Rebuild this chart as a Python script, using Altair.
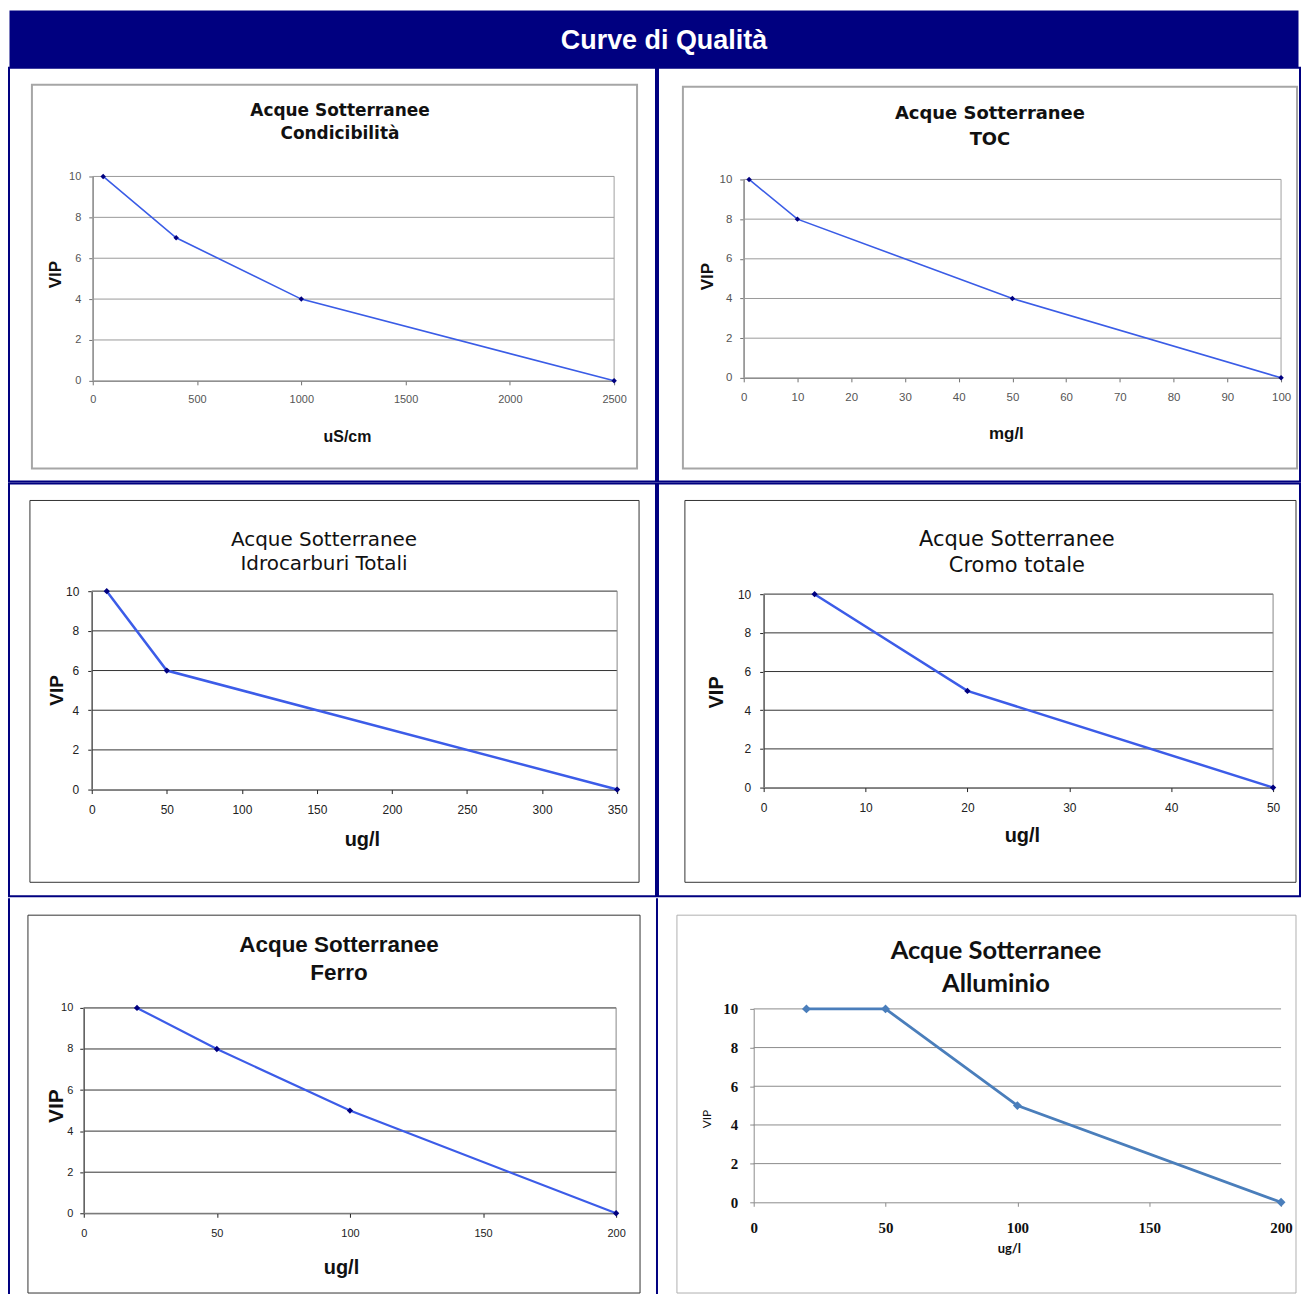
import altair as alt
import pandas as pd

# ---------------- data ----------------
header_text = "Curve di Qualità"

# 1 Condicibilità
cond_x = [50, 400, 1000, 2500]
cond_y = [10, 7, 4, 0]
cond_ticks = [0, 500, 1000, 1500, 2000, 2500]

# 2 TOC
toc_x = [1, 10, 50, 100]
toc_y = [10, 8, 4, 0]
toc_ticks = [0, 10, 20, 30, 40, 50, 60, 70, 80, 90, 100]

# 3 Idrocarburi Totali
idro_x = [10, 50, 350]
idro_y = [10, 6, 0]
idro_ticks = [0, 50, 100, 150, 200, 250, 300, 350]

# 4 Cromo totale
cromo_x = [5, 20, 50]
cromo_y = [10, 5, 0]
cromo_ticks = [0, 10, 20, 30, 40, 50]

# 5 Ferro
ferro_x = [20, 50, 100, 200]
ferro_y = [10, 8, 5, 0]
ferro_ticks = [0, 50, 100, 150, 200]

# 6 Alluminio
allu_x = [20, 50, 100, 200]
allu_y = [10, 10, 5, 0]
allu_ticks = [0, 50, 100, 150, 200]

vip_ticks = [0, 2, 4, 6, 8, 10]
grid_vals = [2, 4, 6, 8, 10]

NAVY = "#000080"
SANS = "Liberation Sans"


def cell(xs, ys, xticks, xmax, title, xtitle, w, h, box, px, py, st):
    one = pd.DataFrame({"k": [0]})
    df = pd.DataFrame({"x": xs, "y": ys})
    xscale = alt.Scale(domain=[0, xmax], range=list(px), nice=False, zero=False)
    yscale = alt.Scale(domain=[0, 10], range=[py[1], py[0]], nice=False, zero=False)
    xaxis = alt.Axis(
        values=xticks, format="d", title=xtitle, offset=py[1] - h, grid=False,
        domainColor=st["axis"], tickColor=st["axis"], tickSize=st["tick"],
        labelFont=st["lfont"], labelFontSize=st["lsize"], labelColor=st["lcolor"],
        labelFontWeight=st.get("lweight", "normal"),
        labelFlush=False, labelOverlap=False, labelPadding=st["xlp"],
        titleFont=st["xtfont"], titleFontSize=st["xtsize"], titleFontWeight="bold",
        titleColor="#111", titleX=st["xt"][0], titleY=st["xt"][1] - py[1],
        titleAnchor="middle", titleAlign="center", titleBaseline="middle",
    )
    yaxis = alt.Axis(
        values=vip_ticks, format="d", title="VIP", offset=-px[0], grid=False,
        domainColor=st["axis"], tickColor=st["axis"], tickSize=st["tick"],
        labelFont=st["lfont"], labelFontSize=st["lsize"], labelColor=st["lcolor"],
        labelFontWeight=st.get("lweight", "normal"),
        labelFlush=False, labelOverlap=False, labelPadding=st["ylp"],
        titleFont=st["ytfont"], titleFontSize=st["ytsize"], titleFontWeight=st["ytweight"],
        titleColor="#111", titleX=st["yt"][0] - px[0], titleY=st["yt"][1],
        titleAngle=270, titleAlign="center", titleBaseline="middle",
    )
    X = lambda **kw: alt.X(scale=xscale, axis=xaxis, **kw)
    Y = lambda **kw: alt.Y(scale=yscale, axis=yaxis, **kw)

    layers = []
    # outer chart box
    layers.append(
        alt.Chart(one).mark_rect(fillOpacity=0, stroke=st["box"], strokeWidth=st["boxw"]).encode(
            x=alt.value(box[0]), x2=alt.value(box[2]), y=alt.value(box[1]), y2=alt.value(box[3])
        )
    )
    # grid lines
    layers.append(
        alt.Chart(pd.DataFrame({"g": grid_vals})).mark_rule(color=st["grid"], strokeWidth=1).encode(
            y=Y(field="g", type="quantitative"),
            x=X(datum=0),
            x2=alt.datum(xmax),
        )
    )
    if st["frame"]:
        layers.append(
            alt.Chart(one).mark_rect(fillOpacity=0, stroke=st["framec"], strokeWidth=1).encode(
                x=X(datum=0), x2=alt.datum(xmax), y=Y(datum=0), y2=alt.datum(10),
            )
        )
    layers.append(
        alt.Chart(df).mark_line(color=st["line"], strokeWidth=st["lw"]).encode(
            x=X(field="x", type="quantitative"), y=Y(field="y", type="quantitative"),
        )
    )
    layers.append(
        alt.Chart(df).mark_point(shape="diamond", filled=True, opacity=1, size=st["ms"], color=st["mc"]).encode(
            x=X(field="x", type="quantitative"), y=Y(field="y", type="quantitative"),
        )
    )
    layers.append(
        alt.Chart(pd.DataFrame({"t": [title]})).mark_text(
            font=st["tfont"], fontSize=st["tsize"], fontWeight=st["tweight"], color="#111",
            lineBreak="\n", lineHeight=st["tlh"], align="center", baseline="middle",
        ).encode(text="t:N", x=alt.value(st["tpos"][0]), y=alt.value(st["tpos"][1]))
    )
    if st.get("noborder"):
        layers.append(
            alt.Chart(one).mark_rule(color=NAVY, strokeWidth=2).encode(
                x=alt.value(0), y=alt.value(0), y2=alt.value(h)
            )
        )
        view = alt.ViewBackground(fill="white", strokeOpacity=0)
    else:
        view = alt.ViewBackground(fill="white", stroke=NAVY, strokeWidth=2)
    return alt.layer(*layers).properties(width=w, height=h, view=view)


old_style = dict(
    box="#a6a6a6", boxw=2, grid="#9a9a9a", frame=True, framec="#a0a0a0", axis="#707070", tick=4,
    lfont=SANS, lsize=11, lcolor="#555", xlp=9, ylp=8,
    xtfont=SANS, xtsize=16, ytfont=SANS, ytsize=17, ytweight="bold",
    line="#3a5ce6", lw=1.6, ms=30, mc=NAVY,
    tfont="DejaVu Sans", tsize=17, tweight="bold", tlh=23,
)
mid_style = dict(
    box="#333333", boxw=1, grid="#333333", frame=True, framec="#888888", axis="#222", tick=4,
    lfont=SANS, lsize=12, lcolor="#222", xlp=11, ylp=9,
    xtfont=SANS, xtsize=20, ytfont=SANS, ytsize=20, ytweight="bold",
    line="#3c5ce8", lw=2.5, ms=40, mc=NAVY,
    tfont="DejaVu Sans", tsize=20, tweight="normal", tlh=25,
)

s1 = dict(old_style, tpos=(332, 43), xt=(339, 370), yt=(47, 207))
s2 = dict(old_style, tsize=18, tlh=26, tpos=(333, 46), xt=(349, 367), yt=(50, 209), xtsize=17,
          lsize=11.5, xlp=10)
s3 = dict(mid_style, tsize=20, tlh=24, tpos=(316, 57), xt=(354, 357), yt=(48, 207), ytsize=19)
s4 = dict(mid_style, tsize=21, tlh=26, tpos=(360, 57), xt=(365, 353), yt=(59, 209), ytsize=20)
s5 = dict(mid_style, tfont=SANS, tsize=22.5, tweight="bold", tlh=28, tpos=(331, 47), xt=(333, 370),
          yt=(48, 208), ytsize=21, lsize=11, lw=2.2, xlp=10, ylp=7, noborder=True)
s6 = dict(
    box="#b0b0b0", boxw=1, grid="#8c8c8c", frame=False, framec="#888", axis="#8c8c8c", tick=4,
    lfont="Liberation Serif", lsize=15, lcolor="#111", lweight="bold", xlp=14, ylp=12,
    xtfont="Lato", xtsize=13, ytfont="Lato", ytsize=12, ytweight="normal",
    line="#4a7ebb", lw=2.8, ms=80, mc="#4a7ebb",
    tfont="Lato", tsize=25.5, tweight="bold", tlh=33, tpos=(340, 53), xt=(353, 351), yt=(50, 221),
    noborder=True,
)

W1, W2 = 649, 644
c1 = cell(cond_x, cond_y, cond_ticks, 2500, "Acque Sotterranee\nCondicibilità", "uS/cm",
          W1, 415, (23, 17, 630, 402), (84, 607), (109, 314), s1)
c2 = cell(toc_x, toc_y, toc_ticks, 100, "Acque Sotterranee\nTOC", "mg/l",
          W2, 415, (25, 19, 641, 402), (86, 625), (112, 311), s2)
c3 = cell(idro_x, idro_y, idro_ticks, 350, "Acque Sotterranee\nIdrocarburi Totali", "ug/l",
          W1, 414, (21, 17, 632, 400), (83, 610), (108, 307), s3)
c4 = cell(cromo_x, cromo_y, cromo_ticks, 50, "Acque Sotterranee\nCromo totale", "ug/l",
          W2, 414, (27, 17, 640, 400), (106, 617), (111, 305), s4)
c5 = cell(ferro_x, ferro_y, ferro_ticks, 200, "Acque Sotterranee\nFerro", "ug/l",
          W1, 397, (19, 17, 633, 396), (75, 609), (110, 316), s5)
c6 = cell(allu_x, allu_y, allu_ticks, 200, "Acque Sotterranee\nAlluminio", "ug/l",
          W2, 397, (20, 17, 641, 396), (97, 626), (111, 305), s6)

header = alt.Chart(pd.DataFrame({"t": [header_text]})).mark_text(
    font=SANS, fontSize=27, fontWeight="bold", color="white", align="center", baseline="middle"
).encode(text="t:N", x=alt.value(657), y=alt.value(31)).properties(
    width=W1 + W2, height=57, view=alt.ViewBackground(fill=NAVY, strokeOpacity=0)
)

row1 = alt.hconcat(c1, c2, spacing=0)
row2 = alt.hconcat(c3, c4, spacing=0)
row3 = alt.hconcat(c5, c6, spacing=0)

chart = alt.vconcat(header, row1, row2, row3, spacing=0).properties(
    padding={"left": 0, "top": 0, "right": 0, "bottom": 0}, background="white"
).configure_concat(spacing=0)

chart.save("out.html", embed_options={"renderer": "svg", "actions": False})
